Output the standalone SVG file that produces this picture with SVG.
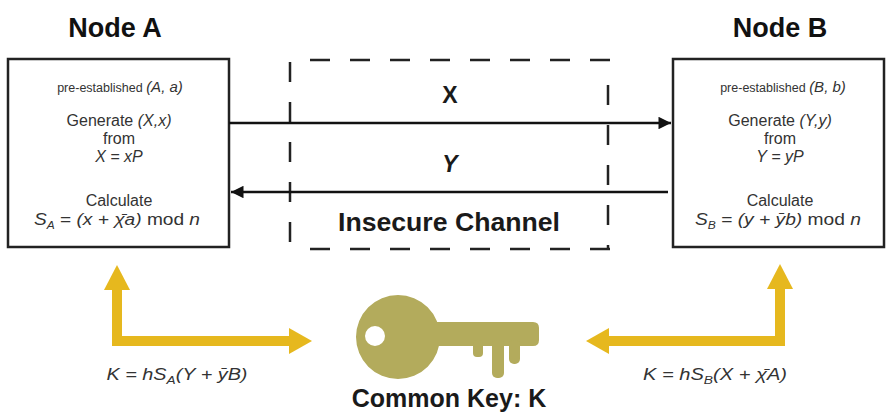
<svg xmlns="http://www.w3.org/2000/svg" width="886" height="415" viewBox="0 0 886 415">
<defs>
<style>
.title{font-family:"Liberation Sans",Arial,sans-serif;font-weight:bold;font-size:27px;fill:#111;text-anchor:middle}
.body{font-family:"Liberation Sans",Arial,sans-serif;font-size:16px;fill:#333;text-anchor:middle}
.small{font-size:12.5px}
.it{font-style:italic}
.sub{font-size:10px}
.chan{font-family:"Liberation Sans",Arial,sans-serif;font-weight:bold;fill:#1a1a1a;text-anchor:middle}
.box{fill:#fff;stroke:#222;stroke-width:2.5}
.dash{fill:none;stroke:#222;stroke-width:2.5;stroke-dasharray:20 20}
.wire{fill:none;stroke:#111;stroke-width:2.5}
.gold{fill:none;stroke:#E6B81E;stroke-width:10}
.goldhead{fill:#E6B81E}
.key{fill:#B3AB5C}
.formula{font-family:"Liberation Sans",Arial,sans-serif;font-style:italic;font-size:16px;fill:#333;text-anchor:middle}
</style>
<marker id="ah" viewBox="0 0 10 10" refX="10" refY="5" markerWidth="7" markerHeight="5" markerUnits="strokeWidth" orient="auto">
<path d="M0 0 L10 5 L0 10 z" fill="#111"/>
</marker>
</defs>
<rect width="886" height="415" fill="#fff"/>

<g id="node-a">
<text class="title" x="115" y="37">Node A</text>
<rect class="box" x="8" y="59" width="221" height="188"/>
<text class="body" x="120" y="92"><tspan class="small">pre-established </tspan><tspan class="it" font-size="15">(A, a)</tspan></text>
<text class="body" x="119" y="126">Generate <tspan class="it">(X,x)</tspan></text>
<text class="body" x="119" y="144">from</text>
<text class="body it" x="119" y="162">X = xP</text>
<text class="body" x="119" y="206">Calculate</text>
<text class="body" x="117" y="225" textLength="166" lengthAdjust="spacingAndGlyphs"><tspan class="it">S</tspan><tspan class="sub it" dy="4">A</tspan><tspan dy="-4"> = </tspan><tspan class="it">(x + χ̄a)</tspan> mod <tspan class="it">n</tspan></text>
</g>

<g id="node-b">
<text class="title" x="780" y="37">Node B</text>
<rect class="box" x="673" y="59" width="211" height="188"/>
<text class="body" x="783" y="92"><tspan class="small">pre-established </tspan><tspan class="it" font-size="15">(B, b)</tspan></text>
<text class="body" x="780" y="126">Generate <tspan class="it">(Y,y)</tspan></text>
<text class="body" x="780" y="144">from</text>
<text class="body it" x="780" y="162">Y = yP</text>
<text class="body" x="780" y="206">Calculate</text>
<text class="body" x="778" y="225" textLength="166" lengthAdjust="spacingAndGlyphs"><tspan class="it">S</tspan><tspan class="sub it" dy="4">B</tspan><tspan dy="-4"> = </tspan><tspan class="it">(y + ȳb)</tspan> mod <tspan class="it">n</tspan></text>
</g>

<g id="channel">
<path class="dash" d="M310 60 H610"/>
<path class="dash" d="M310 249 H610"/>
<path class="dash" d="M290 62 V250"/>
<path class="dash" d="M608 85 V250"/>
<text class="chan" x="449" y="231" font-size="25" textLength="222" lengthAdjust="spacingAndGlyphs">Insecure Channel</text>
</g>

<g id="connectors">
<path class="wire" d="M229 123 H671" marker-end="url(#ah)"/>
<path class="wire" d="M668 192 H231" marker-end="url(#ah)"/>
<text class="chan" x="450" y="103" font-size="23">X</text>
<text class="chan it" x="450" y="172" font-size="23">Y</text>
<path class="gold" d="M117 288 V341 H292"/>
<polygon class="goldhead" points="117,265 130,290 104,290"/>
<polygon class="goldhead" points="312,341 289,328 289,354"/>
<path class="gold" d="M780 288 V341 H608"/>
<polygon class="goldhead" points="780,264 793,289 767,289"/>
<polygon class="goldhead" points="586,341 609,328 609,354"/>
<text class="formula" x="177" y="380" textLength="141" lengthAdjust="spacingAndGlyphs">K = hS<tspan font-size="11" dy="4">A</tspan><tspan dy="-4">(Y + ȳB)</tspan></text>
<text class="formula" x="715" y="380" textLength="144" lengthAdjust="spacingAndGlyphs">K = hS<tspan font-size="11" dy="4">B</tspan><tspan dy="-4">(X + χ̄A)</tspan></text>
</g>

<g id="common-key">
<path class="key" fill-rule="evenodd" d="M398 295 A42 42 0 1 0 398 379 A42 42 0 1 0 398 295 Z M375 326 A10 10 0 1 0 375 346 A10 10 0 1 0 375 326 Z"/>
<path class="key" d="M430 322 H533 Q539 322 539 328 V340 Q539 346 533 346 H430 Z"/>
<rect class="key" x="473" y="340" width="10" height="17" rx="4"/>
<rect class="key" x="492" y="340" width="12" height="38" rx="5"/>
<rect class="key" x="509" y="340" width="11" height="24" rx="5"/>
<text class="chan" x="449" y="407" font-size="25">Common Key: K</text>
</g>
</svg>
